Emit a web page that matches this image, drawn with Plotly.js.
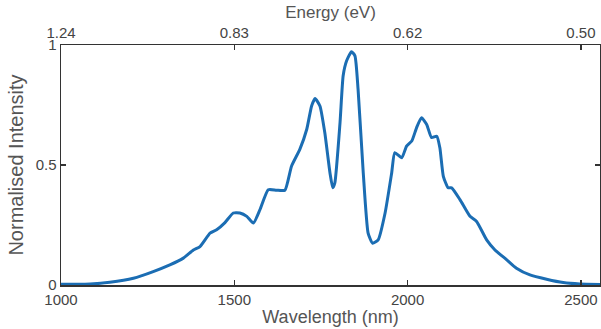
<!DOCTYPE html>
<html>
<head>
<meta charset="utf-8">
<script src="https://cdn.plot.ly/plotly-3.0.1.min.js"></script>
<style>html,body{margin:0;padding:0;background:#fff;}#chart{width:601px;height:329px;}</style>
</head>
<body>
<div id="chart"></div>
<script>
const wavelength = [1000,1040,1084,1141,1209,1266,1314,1353,1382,1401,1430,1449,1473,1497,1516,1536,1555,1574,1598,1622,1646,1665,1689,1709,1723,1733,1747,1761,1776,1784,1790,1805,1814,1824,1838,1848,1857,1872,1886,1899,1915,1935,1954,1963,1983,1997,2012,2026,2040,2055,2069,2084,2093,2103,2117,2127,2151,2180,2199,2228,2252,2286,2314,2353,2401,2449,2497,2555];
const intensity = [0.003,0.003,0.004,0.011,0.028,0.056,0.084,0.112,0.146,0.16,0.216,0.23,0.26,0.30,0.30,0.286,0.258,0.314,0.397,0.395,0.395,0.495,0.565,0.649,0.746,0.777,0.746,0.635,0.467,0.405,0.425,0.677,0.872,0.934,0.972,0.955,0.816,0.467,0.216,0.174,0.188,0.30,0.467,0.551,0.53,0.579,0.60,0.656,0.697,0.669,0.614,0.62,0.572,0.453,0.405,0.405,0.356,0.286,0.265,0.188,0.146,0.105,0.07,0.042,0.024,0.01,0.004,0.002];
const bottomTicks = [1000,1500,2000,2500];
const bottomTickText = ['1000','1500','2000','2500'];
const energyTickText = ['1.24','0.83','0.62','0.50'];
const yTicks = [0,0.5,1];
const yTickText = ['0','0.5','1'];
const xRange = [1000,2555];

const font = {family:'Liberation Sans, Arial, sans-serif', color:'#444', size:15};
const traces = [
  {x:wavelength, y:intensity, type:'scatter', mode:'lines',
   line:{color:'#1b6db3', width:3, shape:'spline', smoothing:0.5}, hoverinfo:'none', showlegend:false},
  {x:[xRange[0]], y:[0], xaxis:'x2', type:'scatter', mode:'markers', marker:{opacity:0}, showlegend:false, hoverinfo:'none'}
];
const layout = {
  width:601, height:329,
  margin:{l:61, r:1, t:45, b:44},
  paper_bgcolor:'#fff', plot_bgcolor:'#fff',
  font:font,
  showlegend:false,
  xaxis:{range:xRange, tickvals:bottomTicks, ticktext:bottomTickText, ticks:'inside', ticklen:5, tickwidth:1.5,
    tickcolor:'#333', showline:true, linecolor:'#333', linewidth:1.5, showgrid:false, zeroline:false,
    tickfont:{size:15, color:'#444'},
    title:{text:'Wavelength (nm)', font:{size:18, color:'#555'}, standoff:3}},
  xaxis2:{range:xRange, overlaying:'x', side:'top', tickvals:bottomTicks, ticktext:energyTickText, ticks:'inside', ticklen:5, tickwidth:1.5,
    tickcolor:'#333', showline:true, linecolor:'#333', linewidth:1.5, showgrid:false, zeroline:false,
    tickfont:{size:15, color:'#444'},
    title:{text:'Energy (eV)', font:{size:17, color:'#555'}, standoff:0}},
  yaxis:{range:[0,1], tickvals:yTicks, ticktext:yTickText, ticks:'inside', ticklen:5, tickwidth:1.5,
    tickcolor:'#333', showline:true, mirror:'ticks', linecolor:'#333', linewidth:1.5, showgrid:false, zeroline:false,
    tickfont:{size:15, color:'#444'},
    title:{text:'Normalised Intensity', font:{size:20, color:'#555'}, standoff:6}}
};
Plotly.newPlot('chart', traces, layout, {displayModeBar:false, staticPlot:true});
</script>
</body>
</html>
